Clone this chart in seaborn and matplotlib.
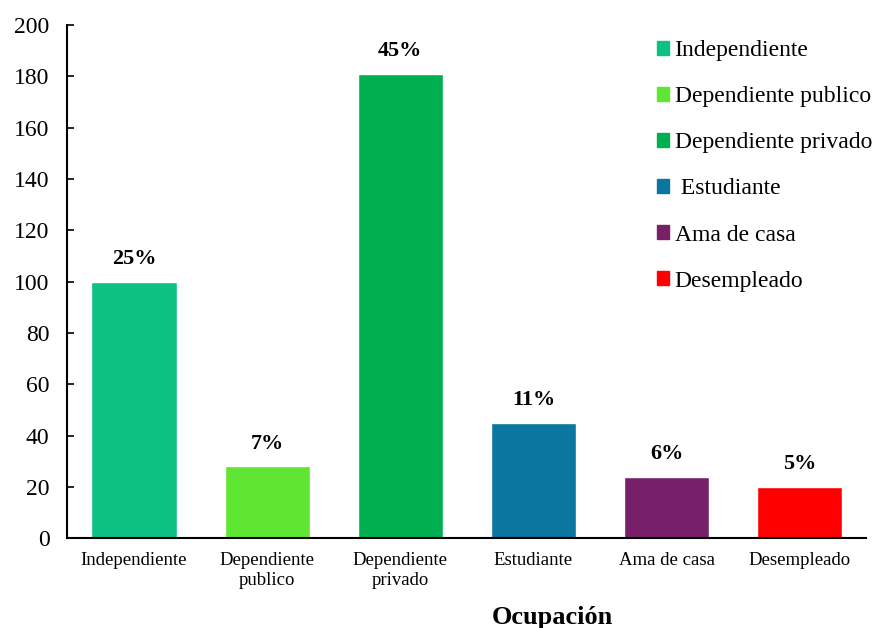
import matplotlib
matplotlib.use('Agg')
import matplotlib.pyplot as plt
import seaborn as sns
import pandas as pd

# datos de la grafica
ocupacion = ['Independiente', 'Dependiente publico', 'Dependiente privado',
             'Estudiante', 'Ama de casa', 'Desempleado']
etiquetas_x = ['Independiente', 'Dependiente\npublico', 'Dependiente\nprivado',
               'Estudiante', 'Ama de casa', 'Desempleado']
leyenda = ['Independiente', 'Dependiente publico', 'Dependiente privado',
           ' Estudiante', 'Ama de casa', 'Desempleado']
frecuencia = [100, 28, 181, 45, 24, 20]
porcentaje = ['25%', '7%', '45%', '11%', '6%', '5%']
colores = ['#0DC182', '#5FE633', '#00B050', '#0B76A0', '#772069', '#FF0000']

df = pd.DataFrame({'Ocupacion': ocupacion, 'n': frecuencia})

sns.set_style('white')
plt.rcParams['font.family'] = ['Liberation Serif', 'DejaVu Serif']
plt.rcParams['text.color'] = 'black'
plt.rcParams['xtick.color'] = 'black'
plt.rcParams['ytick.color'] = 'black'

fig, ax = plt.subplots(figsize=(8.76, 6.28), dpi=100)
fig.subplots_adjust(left=0.077, right=0.989, top=0.96, bottom=0.143)

sns.barplot(data=df, x='Ocupacion', y='n', hue='Ocupacion', palette=colores,
            width=0.64, saturation=1, legend=False, ax=ax)

# porcentajes encima de las barras
for i, (v, p) in enumerate(zip(frecuencia, porcentaje)):
    ax.text(i, v + 5, p, ha='center', va='bottom', fontsize=16, fontweight='bold')

ax.set_ylim(0, 200)
ax.set_xlim(-0.5, 5.5)
ax.set_yticks(range(0, 201, 20))
ax.tick_params(axis='y', left=True, labelsize=17, direction='in', length=5,
               width=1.2, pad=13, labelcolor='black')
ax.tick_params(axis='x', bottom=True, labelsize=13.5, direction='in', length=5,
               width=1.2, pad=10, labelcolor='black')
ax.set_xticks(range(len(etiquetas_x)))
ax.set_xticklabels(etiquetas_x)
ax.set_ylabel('')
ax.set_xlabel('Ocupación', fontsize=19, fontweight='bold', color='black')
ax.xaxis.set_label_coords(0.607, -0.132)

for s in ['top', 'right']:
    ax.spines[s].set_visible(False)
for s in ['left', 'bottom']:
    ax.spines[s].set_linewidth(1.5)
    ax.spines[s].set_color('black')

handles = [plt.Rectangle((0, 0), 1, 1, color=c) for c in colores]
ax.legend(handles, leyenda, loc='upper left', bbox_to_anchor=(0.731, 0.962),
          bbox_transform=fig.transFigure, frameon=False, fontsize=17,
          borderpad=0.2, handlelength=0.5, handleheight=0.5,
          handletextpad=0.25, labelspacing=1.06)

fig.savefig('out.png', dpi=100)
